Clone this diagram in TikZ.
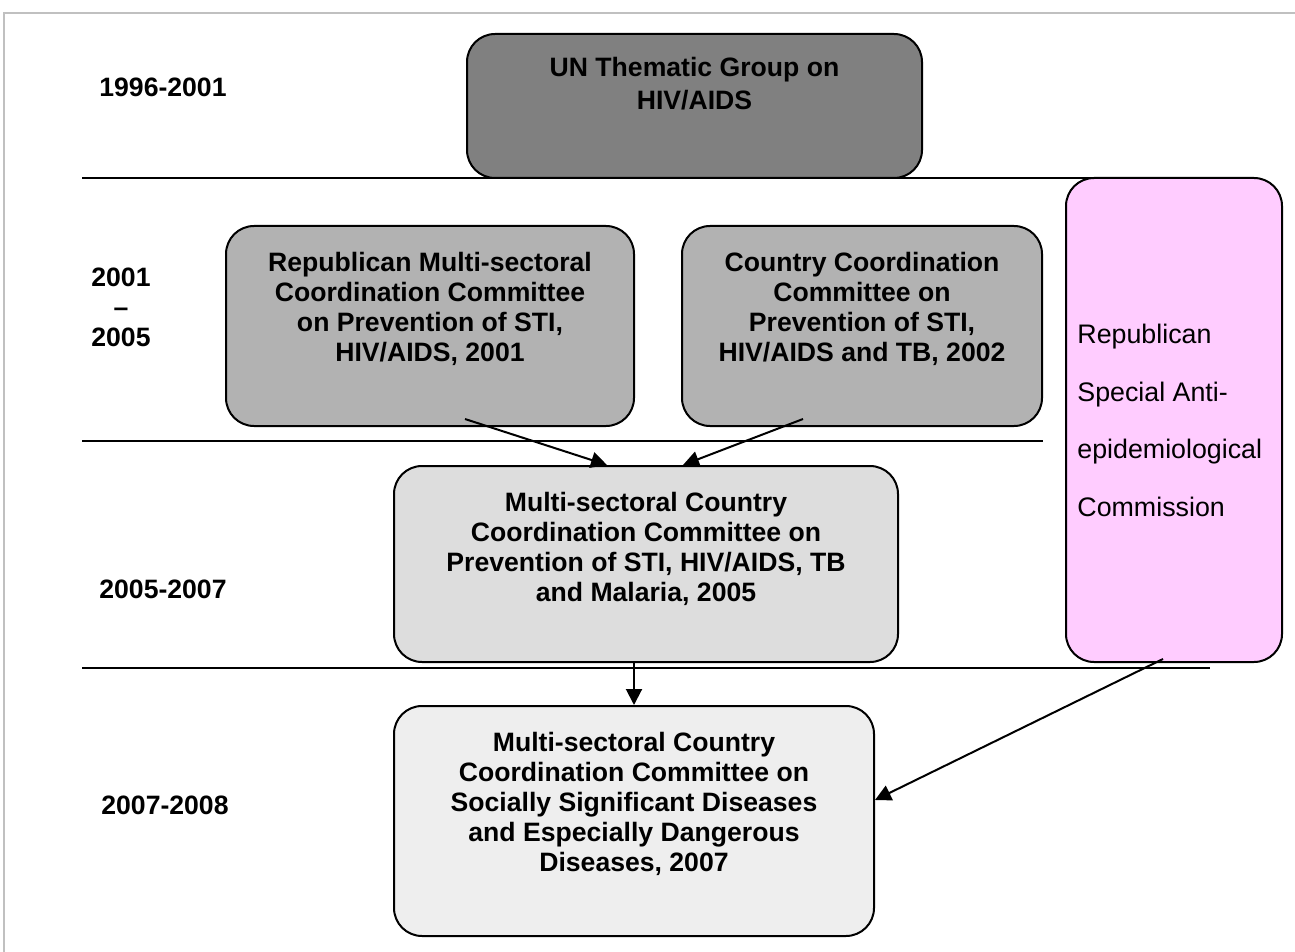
\documentclass[tikz,border=0pt]{standalone}
\usepackage{fontspec}
\setmainfont{Liberation Sans}
\usetikzlibrary{arrows.meta}
\usetikzlibrary{positioning}

\definecolor{ungray}{RGB}{128,128,128}
\definecolor{midgray}{RGB}{178,178,178}
\definecolor{lightgray}{RGB}{221,221,221}
\definecolor{palegray}{RGB}{238,238,238}
\definecolor{framegray}{RGB}{192,192,192}
\definecolor{commpink}{RGB}{255,204,255}

\begin{document}
\begin{tikzpicture}[x=0.5pt,y=-0.5pt,
	stage/.style={draw,line width=1pt,rounded corners=14pt,inner sep=0pt},
	stagetext/.style={align=center,inner sep=0pt,font=\bfseries\fontsize{13.3}{15}\selectfont},
	year/.style={align=center,inner sep=0pt,font=\bfseries\fontsize{13.3}{15}\selectfont},
	link/.style={line width=1pt,-{Triangle[length=8pt,width=8pt]}}]
	\useasboundingbox (0,0) rectangle (1295,952);
	\draw[framegray,line width=0.8pt] (4,952) -- (4,13) -- (1295,13);
	
	\draw[line width=1pt] (82,178) -- (1138,178)
	(82,441) -- (1043,441)
	(82,668) -- (1210,668);
	
	\node[year] (y1) at (163,87) {1996-2001};
	\node[year] (y2) at (121,307) {2001\\–\\2005};
	\node[year] (y3) at (163,589) {2005-2007};
	\node[year] (y4) at (165,805) {2007-2008};
	
	\node[stage,fill=ungray,minimum width=227.5pt,minimum height=72pt] (un) at (694.5,106) {};
	\node[stage,fill=midgray,minimum width=204pt,minimum height=100pt] (rep) at (430,326) {};
	\node[stage,fill=midgray,minimum width=180pt,minimum height=100pt] (ccc) at (862,326) {};
	\node[stage,fill=lightgray,minimum width=252pt,minimum height=98pt] (mccc05) at (646,564) {};
	\node[stage,fill=palegray,minimum width=240pt,minimum height=115pt] (mccc07) at (634,821) {};
	\node[stage,fill=commpink,minimum width=108pt,minimum height=242pt] (rsac) at (1174,420) {};
	
	\node[stagetext,font=\bfseries\fontsize{13.3}{16.5}\selectfont,below=12pt of un.north] (untxt) {UN Thematic Group on\\HIV/AIDS};
	\node[stagetext,below=13.5pt of rep.north] (reptxt) {Republican Multi-sectoral\\Coordination Committee\\on Prevention of STI,\\HIV/AIDS, 2001};
	\node[stagetext,below=13.5pt of ccc.north] (ccctxt) {Country Coordination\\Committee on\\Prevention of STI,\\HIV/AIDS and TB, 2002};
	\node[stagetext,below=13.5pt of mccc05.north] (mccc05txt) {Multi-sectoral Country\\Coordination Committee on\\Prevention of STI, HIV/AIDS, TB\\and Malaria, 2005};
	\node[stagetext,below=13.5pt of mccc07.north] (mccc07txt) {Multi-sectoral Country\\Coordination Committee on\\Socially Significant Diseases\\and Especially Dangerous\\Diseases, 2007};
	\node[align=left,inner sep=0pt,font=\fontsize{13.4}{28.75}\selectfont,below right=73.5pt and 6pt of rsac.north west] (rsactxt) {Republican\\Special Anti-\\epidemiological\\Commission};
	
	\draw[link] ([xshift=17.5pt,yshift=4pt]rep.south) -- ([xshift=-19.5pt]mccc05.north);
	\draw[link] ([xshift=-29.5pt,yshift=4pt]ccc.south) -- ([xshift=18.5pt]mccc05.north);
	\draw[link] (mccc07.north |- mccc05.south) -- (mccc07.north);
	\draw[link] ([xshift=-5.5pt,yshift=2pt]rsac.south) -- ([yshift=10.5pt]mccc07.east);
	
\end{tikzpicture}
\end{document}
